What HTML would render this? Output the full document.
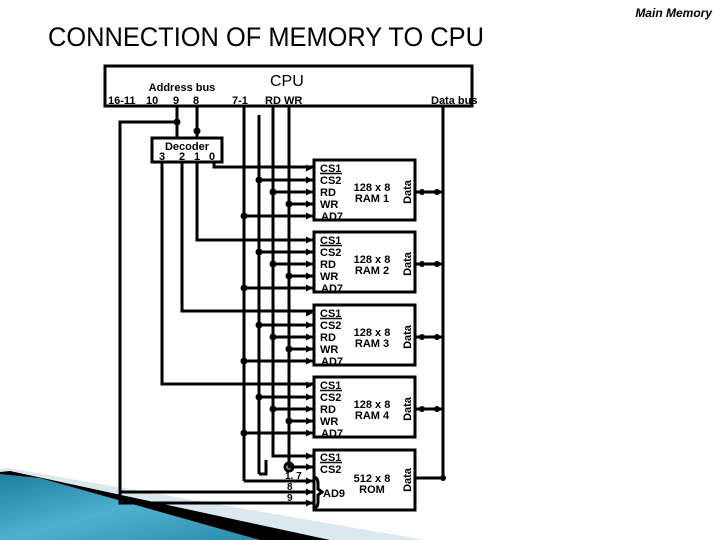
<!DOCTYPE html>
<html><head><meta charset="utf-8"><style>
html,body{margin:0;padding:0;background:#fff;width:720px;height:540px;overflow:hidden}
svg{display:block}
text{font-family:"Liberation Sans",sans-serif}
.b{font-weight:bold;font-size:11px}
</style></head><body>
<svg width="720" height="540" viewBox="0 0 720 540" xmlns="http://www.w3.org/2000/svg">
<defs>
<linearGradient id="tg" x1="0" y1="0" x2="1" y2="1">
<stop offset="0" stop-color="#1d7f9c"/><stop offset="0.5" stop-color="#4fb0cf"/><stop offset="1" stop-color="#2a8cab"/>
</linearGradient>
</defs>
<!-- swoosh -->
<polygon points="0,469 8,468 425,540 0,540" fill="#dbe9ef"/>
<polygon points="0,472 10,471 330,540 0,540" fill="#000"/>
<polygon points="0,474 40,478 260,540 0,540" fill="url(#tg)"/>

<text x="712" y="17" text-anchor="end" font-size="12" font-weight="bold" font-style="italic">Main Memory</text>
<text x="48" y="46" font-size="27" textLength="436" lengthAdjust="spacingAndGlyphs">CONNECTION  OF  MEMORY  TO  CPU</text>

<g stroke="#000" stroke-width="3" fill="none">
<rect x="105" y="66" width="367" height="40"/>
<line x1="177" y1="106" x2="177" y2="138"/>
<line x1="197" y1="106" x2="197" y2="138"/>
<line x1="244" y1="106" x2="244" y2="481"/>
<line x1="259" y1="115" x2="259" y2="474"/>
<polyline points="259,474 266,474 266,460"/>
<polyline points="273,106 273,456 313,456"/>
<polyline points="289,106 289,467 313,467"/>
<polyline points="443,106 443,478 415,478"/>
<polyline points="177,122 120,122 120,503 313,503"/>
<line x1="120" y1="492" x2="313" y2="492"/>
<polyline points="244,481 313,481"/>
<rect x="152" y="138" width="70" height="24" fill="#fff"/>
<polyline points="214,162 214,167 313,167"/>
<polyline points="197,162 197,240 313,240"/>
<polyline points="182,162 182,311 313,311"/>
<polyline points="162,162 162,384 313,384"/>
<path d="M313,477 Q318,477 318,484 L318,489 L322,492 L318,495 L318,502 Q318,508 313,508"/>
</g>
<circle cx="289" cy="467" r="4" fill="none" stroke="#000" stroke-width="3"/>
<circle cx="177" cy="122" r="3.5"/><circle cx="197" cy="131" r="3.5"/>

<g class="b">
<text x="182" y="91" text-anchor="middle">Address bus</text>
<text x="108" y="104">16-11</text><text x="146" y="104">10</text><text x="173" y="104">9</text><text x="193" y="104">8</text>
<text x="232" y="104">7-1</text>
<text x="265" y="104">RD</text><text x="284" y="104">WR</text>
<text x="431" y="104">Data bus</text>
<text x="187" y="150" text-anchor="middle">Decoder</text>
<text x="159" y="160">3</text><text x="179" y="160">2</text><text x="194" y="160">1</text><text x="209" y="160">0</text>
</g>
<text x="270" y="86" font-size="16">CPU</text>

<g transform="translate(0,160)">
<rect x="314" y="0" width="101" height="60" fill="#fff" stroke="#000" stroke-width="3"/>
<g stroke="#000" stroke-width="3"><line x1="259" y1="20" x2="313" y2="20"/><line x1="273" y1="32" x2="313" y2="32"/><line x1="289" y1="44" x2="313" y2="44"/><line x1="244" y1="56" x2="313" y2="56"/><line x1="415" y1="32" x2="443" y2="32"/></g>
<circle cx="259" cy="20" r="3.5"/><circle cx="273" cy="32" r="3.5"/><circle cx="289" cy="44" r="3.5"/><circle cx="244" cy="56" r="3.5"/><circle cx="422" cy="32" r="3"/><circle cx="437" cy="32" r="3"/>
<path d="M306,4.5L313,8L306,11.5ZM306,16.5L313,20L306,23.5ZM306,28.5L313,32L306,35.5ZM306,40.5L313,44L306,47.5ZM306,52.5L313,56L306,59.5Z"/>
<g class="b"><text x="320" y="12">CS1</text><text x="320" y="24">CS2</text><text x="320" y="36">RD</text><text x="320" y="48">WR</text><text x="321" y="60">AD7</text>
<text x="372" y="31" text-anchor="middle">128 x 8</text><text x="372" y="42" text-anchor="middle">RAM 1</text>
<text transform="translate(411,32) rotate(-90)" text-anchor="middle">Data</text></g>
<line x1="320" y1="13.5" x2="342" y2="13.5" stroke="#000" stroke-width="1.5"/>
</g>
<g transform="translate(0,232)">
<rect x="314" y="0" width="101" height="60" fill="#fff" stroke="#000" stroke-width="3"/>
<g stroke="#000" stroke-width="3"><line x1="259" y1="20" x2="313" y2="20"/><line x1="273" y1="32" x2="313" y2="32"/><line x1="289" y1="44" x2="313" y2="44"/><line x1="244" y1="56" x2="313" y2="56"/><line x1="415" y1="32" x2="443" y2="32"/></g>
<circle cx="259" cy="20" r="3.5"/><circle cx="273" cy="32" r="3.5"/><circle cx="289" cy="44" r="3.5"/><circle cx="244" cy="56" r="3.5"/><circle cx="422" cy="32" r="3"/><circle cx="437" cy="32" r="3"/>
<path d="M306,4.5L313,8L306,11.5ZM306,16.5L313,20L306,23.5ZM306,28.5L313,32L306,35.5ZM306,40.5L313,44L306,47.5ZM306,52.5L313,56L306,59.5Z"/>
<g class="b"><text x="320" y="12">CS1</text><text x="320" y="24">CS2</text><text x="320" y="36">RD</text><text x="320" y="48">WR</text><text x="321" y="60">AD7</text>
<text x="372" y="31" text-anchor="middle">128 x 8</text><text x="372" y="42" text-anchor="middle">RAM 2</text>
<text transform="translate(411,32) rotate(-90)" text-anchor="middle">Data</text></g>
<line x1="320" y1="13.5" x2="342" y2="13.5" stroke="#000" stroke-width="1.5"/>
</g>
<g transform="translate(0,305)">
<rect x="314" y="0" width="101" height="60" fill="#fff" stroke="#000" stroke-width="3"/>
<g stroke="#000" stroke-width="3"><line x1="259" y1="20" x2="313" y2="20"/><line x1="273" y1="32" x2="313" y2="32"/><line x1="289" y1="44" x2="313" y2="44"/><line x1="244" y1="56" x2="313" y2="56"/><line x1="415" y1="32" x2="443" y2="32"/></g>
<circle cx="259" cy="20" r="3.5"/><circle cx="273" cy="32" r="3.5"/><circle cx="289" cy="44" r="3.5"/><circle cx="244" cy="56" r="3.5"/><circle cx="422" cy="32" r="3"/><circle cx="437" cy="32" r="3"/>
<path d="M306,4.5L313,8L306,11.5ZM306,16.5L313,20L306,23.5ZM306,28.5L313,32L306,35.5ZM306,40.5L313,44L306,47.5ZM306,52.5L313,56L306,59.5Z"/>
<g class="b"><text x="320" y="12">CS1</text><text x="320" y="24">CS2</text><text x="320" y="36">RD</text><text x="320" y="48">WR</text><text x="321" y="60">AD7</text>
<text x="372" y="31" text-anchor="middle">128 x 8</text><text x="372" y="42" text-anchor="middle">RAM 3</text>
<text transform="translate(411,32) rotate(-90)" text-anchor="middle">Data</text></g>
<line x1="320" y1="13.5" x2="342" y2="13.5" stroke="#000" stroke-width="1.5"/>
</g>
<g transform="translate(0,377)">
<rect x="314" y="0" width="101" height="60" fill="#fff" stroke="#000" stroke-width="3"/>
<g stroke="#000" stroke-width="3"><line x1="259" y1="20" x2="313" y2="20"/><line x1="273" y1="32" x2="313" y2="32"/><line x1="289" y1="44" x2="313" y2="44"/><line x1="244" y1="56" x2="313" y2="56"/><line x1="415" y1="32" x2="443" y2="32"/></g>
<circle cx="259" cy="20" r="3.5"/><circle cx="273" cy="32" r="3.5"/><circle cx="289" cy="44" r="3.5"/><circle cx="244" cy="56" r="3.5"/><circle cx="422" cy="32" r="3"/><circle cx="437" cy="32" r="3"/>
<path d="M306,4.5L313,8L306,11.5ZM306,16.5L313,20L306,23.5ZM306,28.5L313,32L306,35.5ZM306,40.5L313,44L306,47.5ZM306,52.5L313,56L306,59.5Z"/>
<g class="b"><text x="320" y="12">CS1</text><text x="320" y="24">CS2</text><text x="320" y="36">RD</text><text x="320" y="48">WR</text><text x="321" y="60">AD7</text>
<text x="372" y="31" text-anchor="middle">128 x 8</text><text x="372" y="42" text-anchor="middle">RAM 4</text>
<text transform="translate(411,32) rotate(-90)" text-anchor="middle">Data</text></g>
<line x1="320" y1="13.5" x2="342" y2="13.5" stroke="#000" stroke-width="1.5"/>
</g>
<rect x="314" y="450" width="101" height="60" fill="none" stroke="#000" stroke-width="3"/>
<path d="M306,452.5L313,456L306,459.5ZM306,463.5L313,467L306,470.5ZM306,477.5L313,481L306,484.5ZM306,488.5L313,492L306,495.5ZM306,499.5L313,503L306,506.5Z"/>
<circle cx="443" cy="478" r="3"/>
<g class="b"><text x="320" y="461">CS1</text><text x="320" y="473">CS2</text><text x="323" y="497">AD9</text>
<text x="372" y="482" text-anchor="middle">512 x 8</text><text x="372" y="493" text-anchor="middle">ROM</text>
<text transform="translate(411,480) rotate(-90)" text-anchor="middle">Data</text>
<text x="285" y="479" font-size="10">1. 7</text><text x="287" y="490" font-size="10">8</text><text x="287" y="501" font-size="10">9</text></g>
<line x1="320" y1="462.5" x2="342" y2="462.5" stroke="#000" stroke-width="1.5"/>
</svg>
</body></html>
